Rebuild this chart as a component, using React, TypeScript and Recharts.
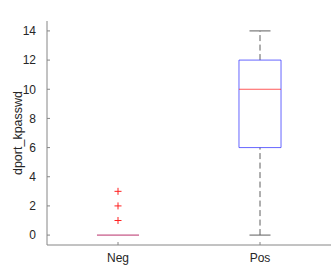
import { ComposedChart, XAxis, YAxis, Scatter, ReferenceLine } from 'recharts'

const categories = ['Neg', 'Pos']
const whiskerLow = [0, 0]
const q1 = [0, 6]
const median = [0, 10]
const q3 = [0, 12]
const whiskerHigh = [0, 14]
const outlierCategory = [1, 1, 1]
const outlierValue = [1, 2, 3]
const yTicks = [0, 2, 4, 6, 8, 10, 12, 14]

const xPos = [1, 2]
const BOX_HALF = 0.148
const CAP_HALF = 0.074
const Y_DOMAIN: [number, number] = [-0.68, 14.68]
const X_DOMAIN: [number, number] = [0.5, 2.5]

const AXIS = '#868686'
const TEXT = '#262626'
const BLUE = '#3333ff'
const RED = '#ff2020'
const FLAT = '#b8306a' // blue box edge under red median, when the box has no height
const WHISKER = '#5e5e5e'

const outliers = outlierCategory.map((c, i) => ({ x: c, y: outlierValue[i] }))

// ── red "+" marker for outliers ──────────────────────────────────────────────

function Cross(props: { cx?: number; cy?: number }) {
  const { cx = 0, cy = 0 } = props
  const r = 3.5
  return (
    <g stroke={RED} strokeWidth={1}>
      <line x1={cx - r} y1={cy} x2={cx + r} y2={cy} />
      <line x1={cx} y1={cy - r} x2={cx} y2={cy + r} />
    </g>
  )
}

function YLabel(props: { viewBox?: { x: number; y: number; width: number; height: number } }) {
  const vb = props.viewBox ?? { x: 0, y: 0, width: 0, height: 0 }
  const x = vb.x + 18
  const y = vb.y + vb.height / 2
  return (
    <text x={x} y={y} transform={`rotate(-90 ${x} ${y})`} textAnchor="middle" dominantBaseline="central"
      fontSize={12.5} fill={TEXT} fontFamily="Liberation Sans, Arial, sans-serif">
      dport_kpasswd
    </text>
  )
}

export default function App() {
  const seg = (x1: number, y1: number, x2: number, y2: number) =>
    [{ x: x1, y: y1 }, { x: x2, y: y2 }] as any

  return (
    <div style={{ position: 'fixed', left: 0, top: 0, width: 332, height: 266, background: '#fff' }}>
      <ComposedChart width={332} height={266} margin={{ top: 21, right: 1, bottom: 0, left: 0 }}
        style={{ fontFamily: 'Liberation Sans, Arial, sans-serif' }}>
        <XAxis xAxisId={0} type="number" dataKey="x" domain={X_DOMAIN} ticks={xPos} allowDataOverflow
          tickFormatter={(v: number) => categories[v - 1] ?? ''} height={21}
          stroke={AXIS} tickSize={-3} tickMargin={11} interval={0}
          tick={{ fill: TEXT, fontSize: 12 }} />
        <XAxis xAxisId="t" orientation="top" type="number" domain={X_DOMAIN} ticks={xPos} allowDataOverflow
          height={0} stroke={AXIS} tickSize={-3} tick={false} />
        <YAxis yAxisId={0} type="number" dataKey="y" domain={Y_DOMAIN} ticks={yTicks} allowDataOverflow
          width={47} stroke={AXIS} tickSize={-3} tickMargin={14} interval={0}
          tick={{ fill: TEXT, fontSize: 12 }} label={<YLabel />} />
        <YAxis yAxisId="r" orientation="right" type="number" domain={Y_DOMAIN} ticks={yTicks} allowDataOverflow
          width={0} stroke={AXIS} tickSize={-3} tick={false} />

        {xPos.map((x, i) => {
          const flat = q3[i] <= q1[i]
          return (
            <g key={categories[i]}>
              {whiskerHigh[i] > q3[i] && (
                <ReferenceLine segment={seg(x, q3[i], x, whiskerHigh[i])} stroke={WHISKER} strokeDasharray="6 3.5" />
              )}
              {q1[i] > whiskerLow[i] && (
                <ReferenceLine segment={seg(x, whiskerLow[i], x, q1[i])} stroke={WHISKER} strokeDasharray="6 3.5" />
              )}
              {whiskerHigh[i] > q3[i] && (
                <ReferenceLine segment={seg(x - CAP_HALF, whiskerHigh[i], x + CAP_HALF, whiskerHigh[i])} stroke={WHISKER} />
              )}
              {q1[i] > whiskerLow[i] && (
                <ReferenceLine segment={seg(x - CAP_HALF, whiskerLow[i], x + CAP_HALF, whiskerLow[i])} stroke={WHISKER} />
              )}
              {!flat && (
                <>
                  <ReferenceLine segment={seg(x - BOX_HALF, q1[i], x + BOX_HALF, q1[i])} stroke={BLUE} strokeOpacity={0.75} />
                  <ReferenceLine segment={seg(x - BOX_HALF, q3[i], x + BOX_HALF, q3[i])} stroke={BLUE} strokeOpacity={0.75} />
                  <ReferenceLine segment={seg(x - BOX_HALF, q1[i], x - BOX_HALF, q3[i])} stroke={BLUE} strokeOpacity={0.75} />
                  <ReferenceLine segment={seg(x + BOX_HALF, q1[i], x + BOX_HALF, q3[i])} stroke={BLUE} strokeOpacity={0.75} />
                </>
              )}
              <ReferenceLine segment={seg(x - BOX_HALF, median[i], x + BOX_HALF, median[i])}
                stroke={flat ? FLAT : RED} strokeOpacity={flat ? 1 : 0.75} />
            </g>
          )
        })}

        <Scatter data={outliers} shape={<Cross />} isAnimationActive={false} />
      </ComposedChart>
    </div>
  )
}
